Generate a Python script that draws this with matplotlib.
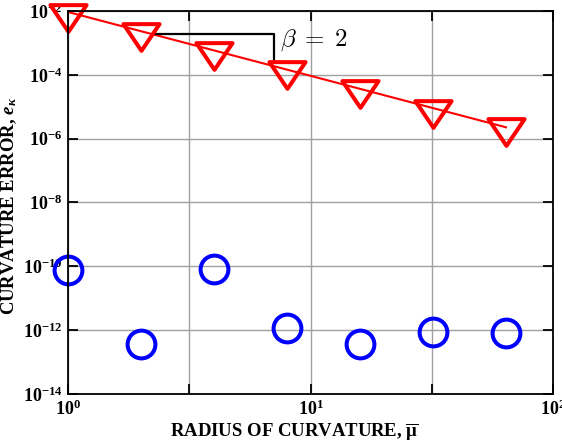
import numpy as np
import matplotlib
matplotlib.use("Agg")
import matplotlib.pyplot as plt
from matplotlib.path import Path
from matplotlib.ticker import NullLocator

plt.rcParams['font.family'] = 'Liberation Serif'
plt.rcParams['font.weight'] = 'bold'
plt.rcParams['axes.labelweight'] = 'bold'
plt.rcParams['mathtext.fontset'] = 'custom'
plt.rcParams['mathtext.rm'] = 'Liberation Serif:bold'
plt.rcParams['mathtext.it'] = 'Liberation Serif:italic:bold'
plt.rcParams['mathtext.bf'] = 'Liberation Serif:bold'

# radio de curvatura y errores medidos
radio = [1, 2, 4, 8, 16, 32, 64]
error_orden2 = [6.0e-3, 1.5e-3, 3.9e-4, 9.8e-5, 2.5e-5, 5.9e-6, 1.6e-6]
error_exacto = [7.6e-11, 3.6e-13, 8.0e-11, 1.15e-12, 3.6e-13, 8.7e-13, 8.1e-13]

# recta de pendiente -2 y su escalon
recta_x = [1, 64]
recta_y = [9.3e-3, 2.27e-6]
escalon_x = [2.24, 7.1, 7.1]
escalon_y = [1.95e-3, 1.95e-3, 2.5e-4]

xticks = [1, 10**0.5, 10, 10**1.5, 100]
xtick_labels = [r'$\mathdefault{10^{0}}$', '', r'$\mathdefault{10^{1}}$', '', r'$\mathdefault{10^{2}}$']
yticks = [1e-14, 1e-12, 1e-10, 1e-8, 1e-6, 1e-4, 1e-2]

# triangulo invertido mas ancho que alto
tri = Path([(-1, 0.74), (1, 0.74), (0, -0.74), (-1, 0.74)],
           [Path.MOVETO, Path.LINETO, Path.LINETO, Path.CLOSEPOLY])

fig = plt.figure(figsize=(5.62, 4.41), dpi=100)
ax = fig.add_axes([0.121, 0.1066, 0.863, 0.8685])
ax.set_xscale('log')
ax.set_yscale('log')
ax.set_xlim(1, 100)
ax.set_ylim(1e-14, 1e-2)

ax.plot(recta_x, recta_y, color='red', lw=1.5, zorder=3)
ax.plot(escalon_x, escalon_y, color='black', lw=1.6, zorder=3)
ax.plot(radio, error_orden2, linestyle='none', marker=tri, markersize=26,
        markerfacecolor='none', markeredgecolor='red', markeredgewidth=2.9,
        clip_on=False, zorder=4)
ax.plot(radio, error_exacto, linestyle='none', marker='o', markersize=20,
        markerfacecolor='none', markeredgecolor='blue', markeredgewidth=2.9,
        clip_on=False, zorder=4)

ax.text(7.5, 8.0e-4, r'$\beta\;=\;2$', fontsize=18, math_fontfamily='cm',
        fontweight='normal', va='baseline', ha='left')

ax.set_xticks(xticks)
ax.set_xticklabels(xtick_labels)
ax.set_yticks(yticks)
ax.xaxis.set_minor_locator(NullLocator())
ax.yaxis.set_minor_locator(NullLocator())
ax.tick_params(which='major', direction='in', length=7, width=1.3,
               top=True, right=True, labelsize=13, colors='black')
ax.tick_params(axis='y', pad=4)
ax.tick_params(axis='x', pad=4)
ax.grid(True, color='#a0a0a0', lw=1)

for sp in ax.spines.values():
    sp.set_linewidth(1.3)
    sp.set_zorder(5)

ax.set_xlabel(r'RADIUS OF CURVATURE, $\overline{\mathrm{\mu}}$', fontsize=13.5)
ax.set_ylabel(r'CURVATURE ERROR, $e_{\kappa}$', fontsize=13.5)
ax.xaxis.set_label_coords(0.466, -0.07)
ax.yaxis.set_label_coords(-0.101, 0.49)

plt.savefig('out.png', dpi=100)
